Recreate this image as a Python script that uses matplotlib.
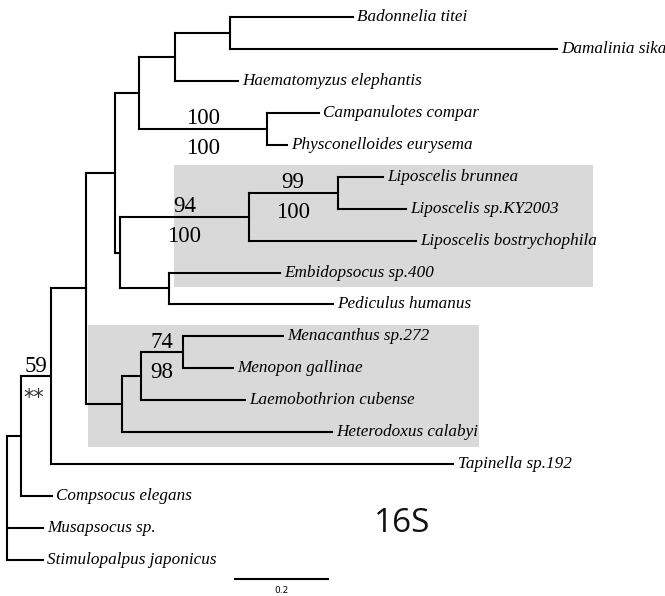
import matplotlib
matplotlib.use("Agg")
import matplotlib.pyplot as plt
from matplotlib.patches import Rectangle

# ---- tree data: node, parent, branch length (substitutions/site) ----
node_names = [
    "root",
    "O", "Musapsocus sp.", "Stimulopalpus japonicus",
    "N", "Compsocus elegans",
    "M", "Tapinella sp.192",
    "I", "L",
    "D", "H",
    "B", "C",
    "A", "Haematomyzus elephantis",
    "Badonnelia titei", "Damalinia sika",
    "Campanulotes compar", "Physconelloides eurysema",
    "F", "P",
    "E", "Liposcelis bostrychophila",
    "Liposcelis brunnea", "Liposcelis sp.KY2003",
    "Embidopsocus sp.400", "Pediculus humanus",
    "K", "Heterodoxus calabyi",
    "J", "Laemobothrion cubense",
    "Menacanthus sp.272", "Menopon gallinae",
]
parents = [
    None,
    "root", "root", "root",
    "O", "O",
    "N", "N",
    "M", "M",
    "I", "I",
    "D", "D",
    "B", "B",
    "A", "A",
    "C", "C",
    "H", "H",
    "F", "F",
    "E", "E",
    "P", "P",
    "L", "L",
    "K", "K",
    "J", "J",
]
branch_lengths = [
    0.0,
    0.030, 0.077, 0.077,
    0.065, 0.067,
    0.075, 0.865,
    0.062, 0.077,
    0.052, 0.011,
    0.077, 0.275,
    0.118, 0.135,
    0.265, 0.703,
    0.112, 0.043,
    0.277, 0.105,
    0.191, 0.360,
    0.097, 0.148,
    0.239, 0.353,
    0.041, 0.452,
    0.090, 0.224,
    0.215, 0.108,
]

# bootstrap / posterior support shown above and below the stem branch
support_nodes = ["C", "E", "F", "J", "N"]
support_upper = ["100", "99", "94", "74", "59"]
support_lower = ["100", "100", "100", "98", "**"]

scale_length = 0.2
gene_label = "16S"

# ---- layout ----
children = {n: [] for n in node_names}
for n, p in zip(node_names, parents):
    if p is not None:
        children[p].append(n)
blen = dict(zip(node_names, branch_lengths))

xpos, ypos = {}, {}
tip_counter = [0]


def layout(n, x):
    xpos[n] = x
    if not children[n]:
        ypos[n] = tip_counter[0]
        tip_counter[0] += 1
    else:
        for c in children[n]:
            layout(c, x + blen[c])
        ypos[n] = 0.5 * (ypos[children[n][0]] + ypos[children[n][-1]])


layout("root", 0.0)

W, H = 665, 596
PX = 465.0          # pixels per unit branch length
ROW = 31.94         # pixels per tip row
fig = plt.figure(figsize=(W / 100, H / 100), dpi=100)
ax = fig.add_axes([0, 0, 1, 1])
ax.set_xlim(-7 / PX, (W - 7) / PX)
ax.set_ylim((H - 17) / ROW, -17 / ROW)
ax.axis("off")

# shaded clades
ax.add_patch(Rectangle((0.359, 4.63), 1.260 - 0.359, 8.45 - 4.63,
                       facecolor="#d9d9d9", edgecolor="none", zorder=0))
ax.add_patch(Rectangle((0.174, 9.64), 1.015 - 0.174, 13.46 - 9.64,
                       facecolor="#d9d9d9", edgecolor="none", zorder=0))

lw = 1.5
for n, p in zip(node_names, parents):
    if p is not None:
        ax.plot([xpos[p], xpos[n]], [ypos[n], ypos[n]], color="black",
                lw=lw, solid_capstyle="projecting", zorder=2)
    if children[n]:
        ys = [ypos[c] for c in children[n]]
        ax.plot([xpos[n], xpos[n]], [min(ys), max(ys)], color="black",
                lw=lw, solid_capstyle="projecting", zorder=2)
    else:
        ax.text(xpos[n] + 0.009, ypos[n], n, ha="left", va="center",
                fontsize=12.3, family="Liberation Serif", style="italic",
                zorder=3)

par = dict(zip(node_names, parents))
for n, up, lo in zip(support_nodes, support_upper, support_lower):
    xm = 0.5 * (xpos[n] + xpos[par[n]])
    ax.text(xm, ypos[n] - 0.15, up, ha="center", va="baseline",
            fontsize=16.5, family="Liberation Serif", zorder=3)
    if lo == "**":
        ax.text(xm - 0.005, ypos[n] + 0.87, lo, ha="center", va="baseline",
                fontsize=15, family="DejaVu Sans", color="#333333", zorder=3)
    else:
        ax.text(xm, ypos[n] + 0.8, lo, ha="center", va="baseline",
                fontsize=16.5, family="Liberation Serif", zorder=3)

# scale bar
sb_x0 = 0.490
sb_y = 17.6
ax.plot([sb_x0, sb_x0 + scale_length], [sb_y, sb_y], color="black", lw=1.5)
ax.text(sb_x0 + scale_length / 2, sb_y + 0.36, f"{scale_length}",
        ha="center", va="center", fontsize=6.5, family="DejaVu Sans")

ax.text(0.85, 15.85, gene_label, ha="center", va="center", fontsize=24,
        family="Open Sans", color="#111111")

fig.savefig("out.png", dpi=100)
